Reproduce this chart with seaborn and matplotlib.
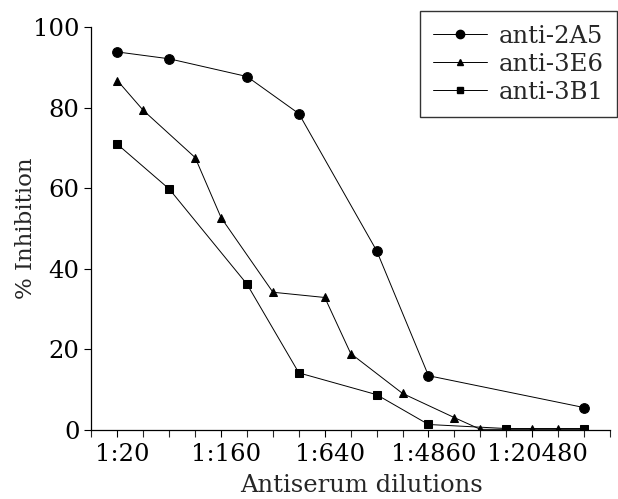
import numpy as np
import pandas as pd
import matplotlib
matplotlib.use("Agg")
import matplotlib.pyplot as plt
import matplotlib.transforms as mtransforms
import seaborn as sns
from matplotlib.lines import Line2D

# 稀释度位置（等距刻度序号）与抑制率
x_2a5 = [1, 3, 6, 8, 11, 13, 19]
y_2a5 = [93.8, 92.1, 87.7, 78.5, 44.5, 13.5, 5.6]

x_3e6 = [1, 2, 4, 5, 7, 9, 10, 12, 14, 15, 16, 17, 18, 19]
y_3e6 = [86.7, 79.3, 67.6, 52.7, 34.2, 32.9, 19.0, 9.1, 3.1, 0.2, 0.2, 0.2, 0.2, 0.2]

x_3b1 = [1, 3, 6, 8, 11, 13, 16, 19]
y_3b1 = [70.9, 59.8, 36.2, 14.2, 8.8, 1.4, 0.4, 0.4]

tick_pos = [1, 5, 9, 13, 17]
tick_labels = ["1:20", "1:160", "1:640", "1:4860", "1:20480"]

series = ["anti-2A5", "anti-3E6", "anti-3B1"]
markers = {"anti-2A5": "o", "anti-3E6": "^", "anti-3B1": "s"}
msize = {"anti-2A5": 7, "anti-3E6": 6, "anti-3B1": 6}

df = pd.concat([
    pd.DataFrame({"dil": x_2a5, "inh": y_2a5, "ab": "anti-2A5"}),
    pd.DataFrame({"dil": x_3e6, "inh": y_3e6, "ab": "anti-3E6"}),
    pd.DataFrame({"dil": x_3b1, "inh": y_3b1, "ab": "anti-3B1"}),
])

sns.set_style("ticks")
plt.rcParams["font.family"] = ["DejaVu Serif"]

fig = plt.figure(figsize=(6.18, 4.99), dpi=100)
ax = fig.add_axes([0.148, 0.138, 0.839, 0.808])

for name in series:
    sub = df[df["ab"] == name]
    sns.lineplot(data=sub, x="dil", y="inh", ax=ax, color="black",
                 linewidth=0.7, marker=markers[name], markersize=msize[name],
                 markeredgecolor="black", markerfacecolor="black")

ax.set_xlim(0, 20)
ax.set_ylim(0, 100)
ax.set_xticks(tick_pos)
ax.set_xticklabels(tick_labels)
ax.set_xticks(range(0, 21), minor=True)
ax.set_yticks([0, 20, 40, 60, 80, 100])
ax.tick_params(axis="both", which="major", labelsize=17.5, length=5, width=0.8, colors="black")
ax.tick_params(axis="x", which="minor", length=5, width=0.8)
ax.tick_params(axis="x", which="major", pad=4)

# 原图刻度文字略向右偏
shift = mtransforms.ScaledTranslation(5 / 100, 0, fig.dpi_scale_trans)
for lab in ax.get_xticklabels():
    lab.set_transform(lab.get_transform() + shift)

ax.set_xlabel("Antiserum dilutions", fontsize=17.5)
ax.xaxis.set_label_coords(0.52, -0.108)
ax.set_ylabel("% Inhibition", fontsize=16.5)
ax.yaxis.set_label_coords(-0.105, 0.5)
for s in ["left", "bottom"]:
    ax.spines[s].set_linewidth(0.9)
    ax.spines[s].set_color("black")
sns.despine(ax=ax)

handles = [Line2D([], [], color="black", linewidth=0.7, marker=markers[n],
                  markersize=msize[n] - 1) for n in series]
leg = ax.legend(handles, series, loc="upper right",
                bbox_to_anchor=(0.999, 0.977), bbox_transform=fig.transFigure,
                fontsize=17.5, frameon=True, fancybox=False, handlelength=2.2,
                borderpad=0.55, labelspacing=0.2, handletextpad=0.5,
                borderaxespad=0)
leg.get_frame().set_edgecolor("black")
leg.get_frame().set_linewidth(1.0)

fig.savefig("out.png", dpi=100)
